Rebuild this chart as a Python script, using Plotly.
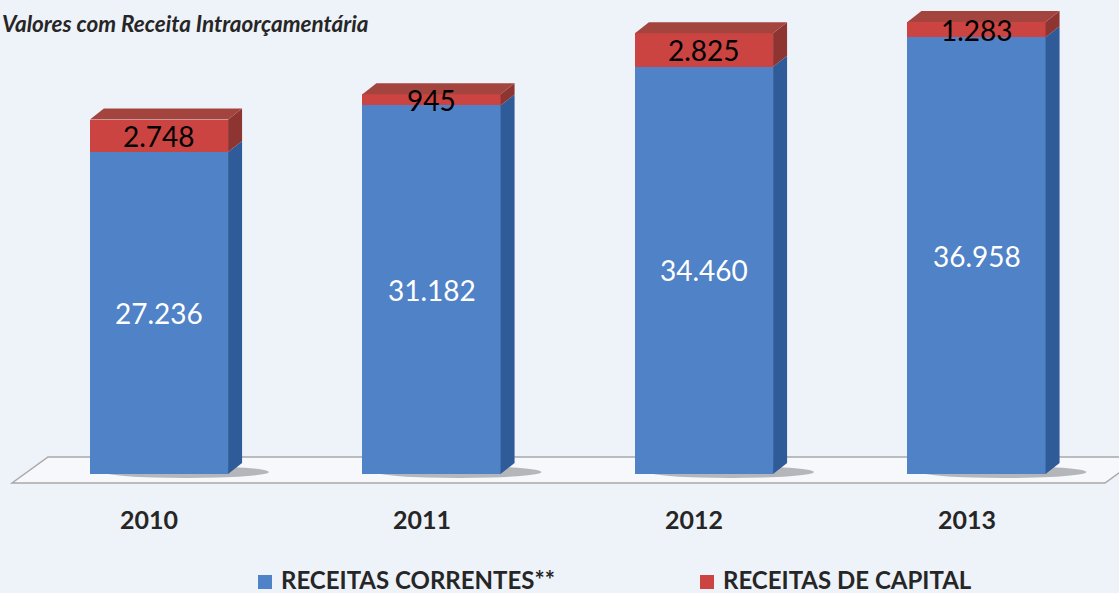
import plotly.graph_objects as go

# ---------------- data ----------------
categories = ["2010", "2011", "2012", "2013"]
correntes = [27236, 31182, 34460, 36958]
capital = [2748, 945, 2825, 1283]
legend_names = ["RECEITAS CORRENTES**", "RECEITAS DE CAPITAL"]
title_text = "Valores com Receita Intraorçamentária"

# ---------------- geometry / style ----------------
W, H = 1119, 593
CAT_PX = 272.5          # pixels per category
VAL_PX = 0.01182        # pixels per value unit
X0_PX = 159             # pixel of first category center
ZERO_PX = 474           # pixel row of value 0
BAR_W = 0.507           # bar width (category units)
DX = 14 / CAT_PX        # 3D depth, horizontal
DY = 11 / VAL_PX        # 3D depth, vertical

BG = "#EEF2F9"
BLUE = "#4F82C6"
BLUE_SIDE = "#2F5C98"
RED = "#CB4442"
RED_TOP = "#A4443F"
RED_SIDE = "#8E3532"
TXT = "#262626"
FONT = "Lato"

xr = [-X0_PX / CAT_PX, (W - X0_PX) / CAT_PX]
yr = [-(H - ZERO_PX) / VAL_PX, ZERO_PX / VAL_PX]

xs = list(range(len(categories)))
tops = [a + b for a, b in zip(correntes, capital)]

def fmt(v):
    return f"{v:,}".replace(",", ".")

fig = go.Figure()
fig.add_trace(go.Bar(x=xs, y=correntes, width=BAR_W, marker=dict(color=BLUE, line_width=0),
                     name=legend_names[0], showlegend=False, hoverinfo="skip"))
fig.add_trace(go.Bar(x=xs, y=capital, width=BAR_W, marker=dict(color=RED, line_width=0),
                     name=legend_names[1], showlegend=False, hoverinfo="skip"))

shapes = []
# floor
fx_l = (12 - X0_PX) / CAT_PX
fx_r = (1105 - X0_PX) / CAT_PX
f_dx = 36 / CAT_PX
f_front = -9 / VAL_PX
f_back = 17 / VAL_PX
shapes.append(dict(type="path", layer="below", xref="x", yref="y",
                   path=f"M{fx_l},{f_front} L{fx_l + f_dx},{f_back} L{fx_r + f_dx},{f_back} L{fx_r},{f_front} Z",
                   fillcolor="rgba(255,255,255,0.45)", line=dict(color="#A8A8A8", width=1.5)))
# shadows
for x in xs:
    shapes.append(dict(type="circle", layer="below", xref="x", yref="y",
                       x0=x - BAR_W / 2 + 0.05, x1=x + BAR_W / 2 + 0.15,
                       y0=-4 / VAL_PX, y1=8 / VAL_PX,
                       fillcolor="rgba(60,60,60,0.35)", line_width=0))

for x, c, t in zip(xs, correntes, tops):
    left, right = x - BAR_W / 2, x + BAR_W / 2
    shapes.append(dict(type="path", layer="above", xref="x", yref="y",
                       path=f"M{right},0 L{right + DX},{DY} L{right + DX},{c + DY} L{right},{c} Z",
                       fillcolor=BLUE_SIDE, line_width=0))
    shapes.append(dict(type="path", layer="above", xref="x", yref="y",
                       path=f"M{right},{c} L{right + DX},{c + DY} L{right + DX},{t + DY} L{right},{t} Z",
                       fillcolor=RED_SIDE, line_width=0))
    shapes.append(dict(type="path", layer="above", xref="x", yref="y",
                       path=f"M{left},{t} L{left + DX},{t + DY} L{right + DX},{t + DY} L{right},{t} Z",
                       fillcolor=RED_TOP, line_width=0))

annotations = []
for x, c, k in zip(xs, correntes, capital):
    annotations.append(dict(x=x, y=c / 2, xref="x", yref="y", text=fmt(c), showarrow=False,
                            font=dict(family=FONT, size=28, color="white")))
    annotations.append(dict(x=x, y=c + k / 2, xref="x", yref="y", text=fmt(k), showarrow=False,
                            font=dict(family=FONT, size=28, color="black")))
    annotations.append(dict(x=x, y=0, xref="x", yref="y", yshift=-45, xshift=-10, text=categories[x],
                            showarrow=False, font=dict(family=FONT, size=25, color=TXT, weight="bold")))

# title
annotations.append(dict(x=0, y=1 - 24 / H, xref="paper", yref="paper", xanchor="left",
                        yanchor="middle", text=title_text, showarrow=False,
                        font=dict(family=FONT, size=22.5, color=TXT, weight="bold", style="italic")))

# legend (manual)
leg_items = [(258, BLUE), (700, RED)]
for (px, col), name in zip(leg_items, legend_names):
    shapes.append(dict(type="rect", xref="paper", yref="paper",
                       x0=px / W, x1=(px + 14) / W, y0=1 - 589 / H, y1=1 - 575 / H,
                       fillcolor=col, line_width=0))
    annotations.append(dict(x=(px + 21) / W, y=1 - 579 / H, xref="paper", yref="paper",
                            xanchor="left", yanchor="middle", text=name, showarrow=False,
                            font=dict(family=FONT, size=24, color=TXT, weight="bold")))

fig.update_layout(
    width=W, height=H, margin=dict(l=0, r=0, t=0, b=0),
    paper_bgcolor=BG, plot_bgcolor=BG,
    barmode="stack", showlegend=False,
    xaxis=dict(range=xr, visible=False, fixedrange=True),
    yaxis=dict(range=yr, visible=False, fixedrange=True),
    shapes=shapes, annotations=annotations,
)

fig.write_html("out.html", config={"displayModeBar": False},
               post_script="document.body.style.margin='0';document.body.style.overflow='hidden';")
